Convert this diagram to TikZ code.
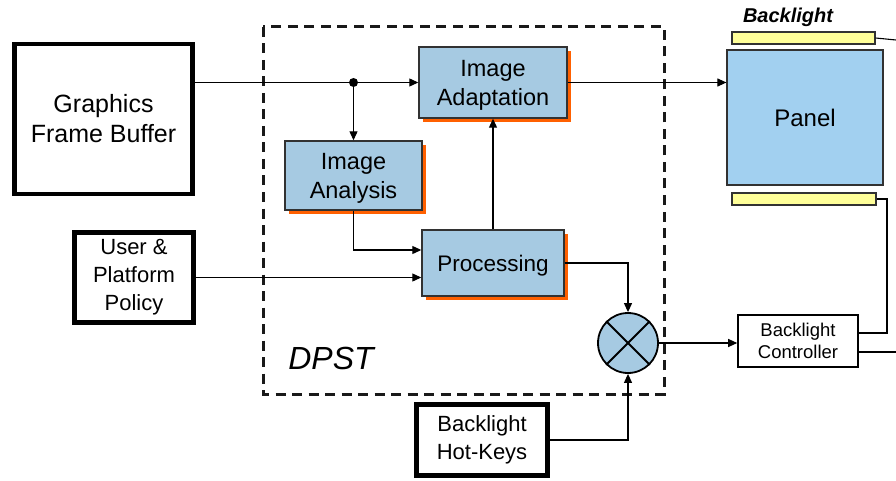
\documentclass[tikz,border=0pt]{standalone}
\usepackage{fontspec}
\setmainfont{Liberation Sans}
\usetikzlibrary{arrows.meta,shadows,shapes.geometric}
\definecolor{boxblue}{RGB}{166,202,226}
\definecolor{panelblue}{RGB}{162,208,240}
\definecolor{shadoworange}{RGB}{255,96,0}
\definecolor{baryellow}{RGB}{255,255,153}
\definecolor{edgegray}{RGB}{50,50,50}
\tikzset{
  x=1pt, y=-1pt,
  every node/.style={inner sep=0pt, align=center},
  heavybox/.style={draw=black, line width=4.5pt, fill=white, font=\fontsize{22}{28}\selectfont},
  bluebox/.style={draw=edgegray, line width=1.4pt, fill=boxblue,
    drop shadow={shadow xshift=4pt, shadow yshift=-4pt, fill=shadoworange, opacity=1},
    font=\fontsize{23.5}{29}\selectfont, text depth=0pt},
  thinbox/.style={draw=black, line width=1.6pt, fill=white, font=\fontsize{18.5}{22}\selectfont},
  barbox/.style={draw=edgegray, line width=1.2pt, fill=baryellow},
  link/.style={draw=black, line width=1.1pt},
  arrowlink/.style={link, -{Triangle[length=9pt,width=8pt]}},
}
\begin{document}
\begin{tikzpicture}
\useasboundingbox (0,0) rectangle (896,481);

% DPST boundary
\draw[line width=3pt, dash pattern=on 10pt off 6.5pt, draw=black!90] (263,27) rectangle (664,394);
\node (dpst) at (331,358) {\fontsize{32}{36}\selectfont\itshape DPST};

% external sources
\node[heavybox, minimum width=178pt, minimum height=150pt,
      font=\fontsize{25}{30}\selectfont] (gfb) at (103.5,119) {Graphics\\Frame Buffer};
\node[heavybox, minimum width=119pt, minimum height=90pt] (policy) at (134,277.5) {User \&\\Platform\\Policy};
\node[heavybox, minimum width=131pt, minimum height=71pt] (hotkeys) at (482,440) {Backlight\\Hot-Keys};

% DPST blocks
\node[bluebox, minimum width=148pt, minimum height=71pt] (adapt) at (493,82.5) {Image\\Adaptation};
\node[bluebox, minimum width=137pt, minimum height=69pt] (analysis) at (353.5,175.5) {Image\\Analysis};
\node[bluebox, minimum width=142pt, minimum height=66pt, font=\fontsize{22.5}{29}\selectfont] (proc) at (493,263) {Processing};
\node[circle, draw=black, line width=1.8pt, fill=boxblue, minimum size=60pt] (mult) at (628,343) {};
\draw[line width=1.8pt] (mult.north east) -- (mult.south west) (mult.north west) -- (mult.south east);

% display side
\node[thinbox, minimum width=120pt, minimum height=52pt] (ctrl) at (798,341) {Backlight\\Controller};
\node[draw=edgegray, line width=1.2pt, fill=panelblue, minimum width=156pt, minimum height=135pt,
      font=\fontsize{24}{28}\selectfont] (panel) at (805,117.5) {Panel};
\node[barbox, minimum width=143pt, minimum height=12pt] (topbar) at (803.5,38) {};
\node[barbox, minimum width=144pt, minimum height=12pt] (botbar) at (804,199) {};
\node (bltext) at (788,17) {\fontsize{20}{24}\selectfont\bfseries\itshape Backlight};

% signal flow
\coordinate (split) at (analysis.north |- adapt.west);
\draw[arrowlink] (gfb.east |- adapt.west) -- (adapt.west);
\fill (split) circle (4.5pt);
\draw[arrowlink] (split) -- (analysis.north);
\draw[arrowlink] (adapt.east) -- (adapt.east -| panel.west);
\draw[arrowlink] (analysis.south) |- ([yshift=13pt]proc.west);
\draw[arrowlink] (policy.east) -- (policy.east -| proc.west);
\draw[arrowlink] (proc.north) -- (adapt.south);
\draw[arrowlink] (proc.east) -| (mult.north);
\draw[arrowlink] (hotkeys.east) -| (mult.south);
\draw[arrowlink] (mult.east) -- (mult.east -| ctrl.west);

% backlight drive lines
\coordinate (rimA) at (896,40);
\coordinate (rimB) at (896,352);
\coordinate (turn) at (887,199);
\draw[link] (topbar.east) -- (rimA);
\draw[link] (botbar.east) -- (turn) |- ([yshift=8pt]ctrl.east);
\draw[link] ([yshift=-11pt]ctrl.east) -- (rimB);
\end{tikzpicture}
\end{document}
